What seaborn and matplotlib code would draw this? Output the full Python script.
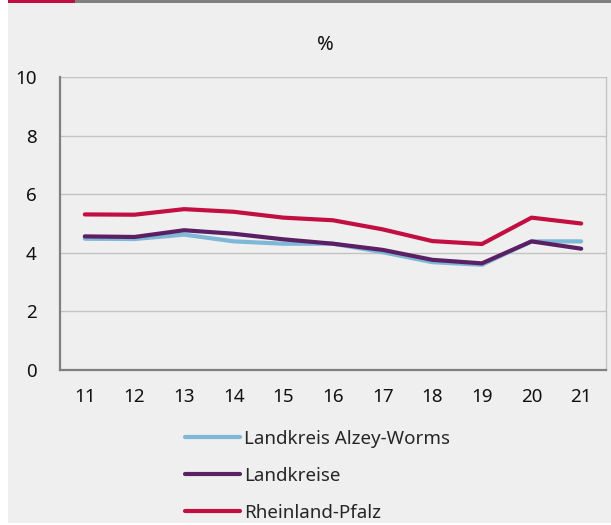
import matplotlib
matplotlib.use("Agg")
import matplotlib.pyplot as plt
from matplotlib.lines import Line2D
from matplotlib.patches import Rectangle
import seaborn as sns
import pandas as pd

years = ["11", "12", "13", "14", "15", "16", "17", "18", "19", "20", "21"]
alzey_worms = [4.48, 4.47, 4.62, 4.39, 4.31, 4.31, 4.02, 3.68, 3.59, 4.39, 4.39]
landkreise = [4.56, 4.54, 4.77, 4.65, 4.46, 4.31, 4.10, 3.76, 3.64, 4.39, 4.14]
rlp = [5.31, 5.30, 5.49, 5.40, 5.20, 5.11, 4.80, 4.40, 4.30, 5.20, 5.00]
series_names = ["Landkreis Alzey-Worms", "Landkreise", "Rheinland-Pfalz"]
colors = ["#7db9d7", "#5b1f63", "#c20f42"]
yticks = [0, 2, 4, 6, 8, 10]

sns.set_theme(style="white")
plt.rcParams["font.family"] = ["Noto Sans", "DejaVu Sans"]

rows = []
for name, vals in zip(series_names, [alzey_worms, landkreise, rlp]):
    for y, v in zip(years, vals):
        rows.append({"Jahr": y, "Wert": v, "Serie": name})
df = pd.DataFrame(rows)

fig = plt.figure(figsize=(6.11, 5.25), dpi=100)
fig.patch.set_facecolor("white")
# panel background and top bar
fig.add_artist(Rectangle((8 / 611, 0.004), 1 - 8 / 611, 1 - 0.004 - 3 / 525,
                         transform=fig.transFigure, facecolor="#eeefee",
                         edgecolor="none", zorder=-10))
fig.add_artist(Rectangle((8 / 611, 1 - 3 / 525), 1 - 8 / 611, 3 / 525,
                         transform=fig.transFigure, facecolor="#808080",
                         edgecolor="none", zorder=-9))
fig.add_artist(Rectangle((8 / 611, 1 - 3 / 525), 67 / 611, 3 / 525,
                         transform=fig.transFigure, facecolor="#c20f42",
                         edgecolor="none", zorder=-8))

ax = fig.add_axes([60 / 611, 1 - 370 / 525, 546 / 611, 293 / 525])
ax.set_facecolor("none")

sns.lineplot(data=df, x="Jahr", y="Wert", hue="Serie", hue_order=series_names,
             palette=colors, linewidth=3.0, ax=ax, legend=False, sort=False)
for ln in ax.lines:
    ln.set_solid_capstyle("round")

ax.set_xlim(-0.5, len(years) - 0.5)
ax.set_ylim(0, 10)
ax.set_yticks(yticks)
ax.set_yticklabels([str(t) for t in yticks], fontsize=13.5, color="#111111")
ax.set_xticks(range(len(years)))
ax.set_xticklabels(years, fontsize=13.5, color="#111111")
ax.set_xticks([i - 0.5 for i in range(len(years) + 1)], minor=True)
ax.tick_params(axis="x", which="major", length=0, pad=13)
ax.tick_params(axis="x", which="minor", length=5, width=1.2, color="#808080",
               direction="out")
ax.tick_params(axis="y", which="major", length=5, width=1.2, color="#808080",
               direction="out", pad=12)
ax.set_xlabel("")
ax.set_ylabel("")
ax.grid(axis="y", color="#c3c3c3", linewidth=1.0)
ax.set_axisbelow(True)
for s in ["left", "bottom"]:
    ax.spines[s].set_color("#808080")
    ax.spines[s].set_linewidth(1.6)
ax.spines["top"].set_visible(False)
ax.spines["right"].set_color("#c3c3c3")
ax.spines["right"].set_linewidth(1.0)

fig.text(325 / 611, 1 - 45 / 525, "%", fontsize=14.5, ha="center", va="center",
         color="#111111")

handles = [Line2D([0], [0], color=c, linewidth=3.0) for c in colors]
fig.legend(handles, series_names, loc="upper left",
           bbox_to_anchor=(185 / 611, 1 - 430 / 525), frameon=False,
           fontsize=13.5, handlelength=2.95, handletextpad=0.18,
           labelspacing=1.0, borderpad=0, borderaxespad=0)

fig.savefig("out.png", dpi=100)
